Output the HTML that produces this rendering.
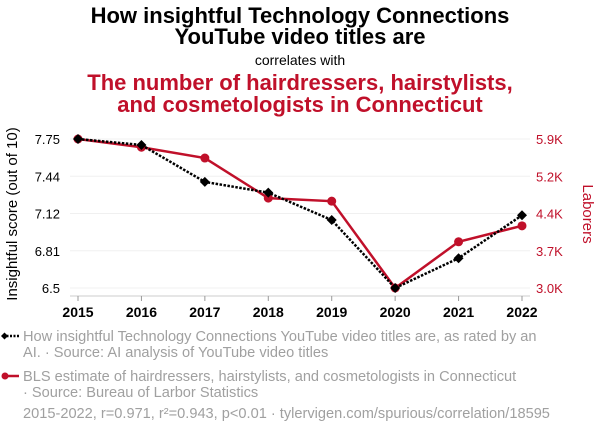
<!DOCTYPE html>
<html><head><meta charset="utf-8"><style>
body{margin:0;background:#fff;font-family:"Liberation Sans",sans-serif;}
svg{display:block}
</style></head><body>
<svg width="600" height="436" xmlns="http://www.w3.org/2000/svg" font-family="Liberation Sans, sans-serif">
<text x="300" y="23" text-anchor="middle" font-size="22" font-weight="bold" fill="#000">How insightful Technology Connections</text>
<text x="300" y="44" text-anchor="middle" font-size="22" font-weight="bold" fill="#000">YouTube video titles are</text>
<text x="300" y="65" text-anchor="middle" font-size="14" fill="#000">correlates with</text>
<text x="300" y="90" text-anchor="middle" font-size="22" font-weight="bold" fill="#c0102a">The number of hairdressers, hairstylists,</text>
<text x="300" y="112" text-anchor="middle" font-size="22" font-weight="bold" fill="#c0102a">and cosmetologists in Connecticut</text>
<g id="grid"></g>
<g id="axes"></g>
<g id="series"></g>
<text transform="translate(17,214) rotate(-90)" text-anchor="middle" font-size="15" fill="#000">Insightful score (out of 10)</text>
<text transform="translate(583,214) rotate(90)" text-anchor="middle" font-size="15" fill="#c0102a">Laborers</text>
<g>
<line x1="3" y1="336" x2="19" y2="336" stroke="#000" stroke-width="2.5" stroke-dasharray="2,1.5"/>
<path d="M1,336 L4.5,332.5 L8,336 L4.5,339.5Z" fill="#000"/>
<text x="23" y="341" font-size="14.6" fill="#a0a0a0">How insightful Technology Connections YouTube video titles are, as rated by an</text>
<text x="23" y="357" font-size="14.6" fill="#a0a0a0">AI. · Source: AI analysis of YouTube video titles</text>
</g>
<g>
<line x1="3" y1="376" x2="19" y2="376" stroke="#c0102a" stroke-width="2.5"/>
<circle cx="5" cy="376" r="3.5" fill="#c0102a"/>
<text x="23" y="381" font-size="14.6" fill="#a0a0a0">BLS estimate of hairdressers, hairstylists, and cosmetologists in Connecticut</text>
<text x="23" y="397" font-size="14.6" fill="#a0a0a0">· Source: Bureau of Larbor Statistics</text>
</g>
<text x="23" y="418" font-size="14.6" fill="#a0a0a0">2015-2022, r=0.971, r²=0.943, p&lt;0.01 · tylervigen.com/spurious/correlation/18595</text>
</svg>
<script>
const years=[2015,2016,2017,2018,2019,2020,2021,2022];
const scores=[7.75,7.70,7.39,7.30,7.07,6.50,6.75,7.11];
const laborers=[5900,5740,5530,4750,4690,3000,3900,4210];
const leftTicks=[7.75,7.4375,7.125,6.8125,6.5];
const leftTickLabels=["7.75","7.44","7.12","6.81","6.5"];
const rightTicks=[5900,5175,4450,3725,3000];
const rightTickLabels=["5.9K","5.2K","4.4K","3.7K","3.0K"];

const NS="http://www.w3.org/2000/svg";
const xS=y=>78+(y-2015)*(444/7);
const yL=v=>288-(v-6.5)*(149/1.25);
const yR=v=>288-(v-3000)*(149/2900);
function mk(tag,attrs,parent){const e=document.createElementNS(NS,tag);for(const k in attrs)e.setAttribute(k,attrs[k]);parent.appendChild(e);return e;}
const grid=document.getElementById('grid'),axes=document.getElementById('axes'),ser=document.getElementById('series');
leftTicks.forEach((t,i)=>{
  const g=mk('line',{x1:70,x2:530,y1:yL(t),y2:yL(t),stroke:'#f0f0f0','stroke-width':1},grid);
  
  
  const tx=mk('text',{x:60,y:yL(t)+5,'text-anchor':'end','font-size':13,fill:'#000'},axes);
  tx.textContent=leftTickLabels[i];
  
  
});
rightTicks.forEach((t,i)=>{
  const tx=mk('text',{x:536,y:yR(t)+5,'font-size':13,fill:'#c0102a'},axes);
  tx.textContent=rightTickLabels[i];
  
  
});
const ax=mk('line',{x1:70,x2:530,y1:296,y2:296,stroke:'#ccc','stroke-width':1},axes);


years.forEach(y=>{
  const tk=mk('line',{x1:xS(y),x2:xS(y),y1:296,y2:301,stroke:'#999'},axes);
  
  
  const tx=mk('text',{x:xS(y),y:317,'text-anchor':'middle','font-size':14,'font-weight':'bold',fill:'#000'},axes);
  tx.textContent=y;
  
  
});
const rl=mk('polyline',{points:years.map((y,i)=>xS(y)+','+yR(laborers[i])).join(' '),fill:'none',stroke:'#c0102a','stroke-width':2.5},ser);


years.forEach((y,i)=>{
  const c=mk('circle',{cx:xS(y),cy:yR(laborers[i]),r:4.5,fill:'#c0102a'},ser);
  
  
});
const bl=mk('polyline',{points:years.map((y,i)=>xS(y)+','+yL(scores[i])).join(' '),fill:'none',stroke:'#000','stroke-width':2.5,'stroke-dasharray':'2.5,1.5'},ser);


years.forEach((y,i)=>{
  const x=xS(y),yy=yL(scores[i]);
  const d=mk('path',{d:`M${x-5},${yy} L${x},${yy-5} L${x+5},${yy} L${x},${yy+5}Z`,fill:'#000'},ser);
  
  
});
</script>
</body></html>
